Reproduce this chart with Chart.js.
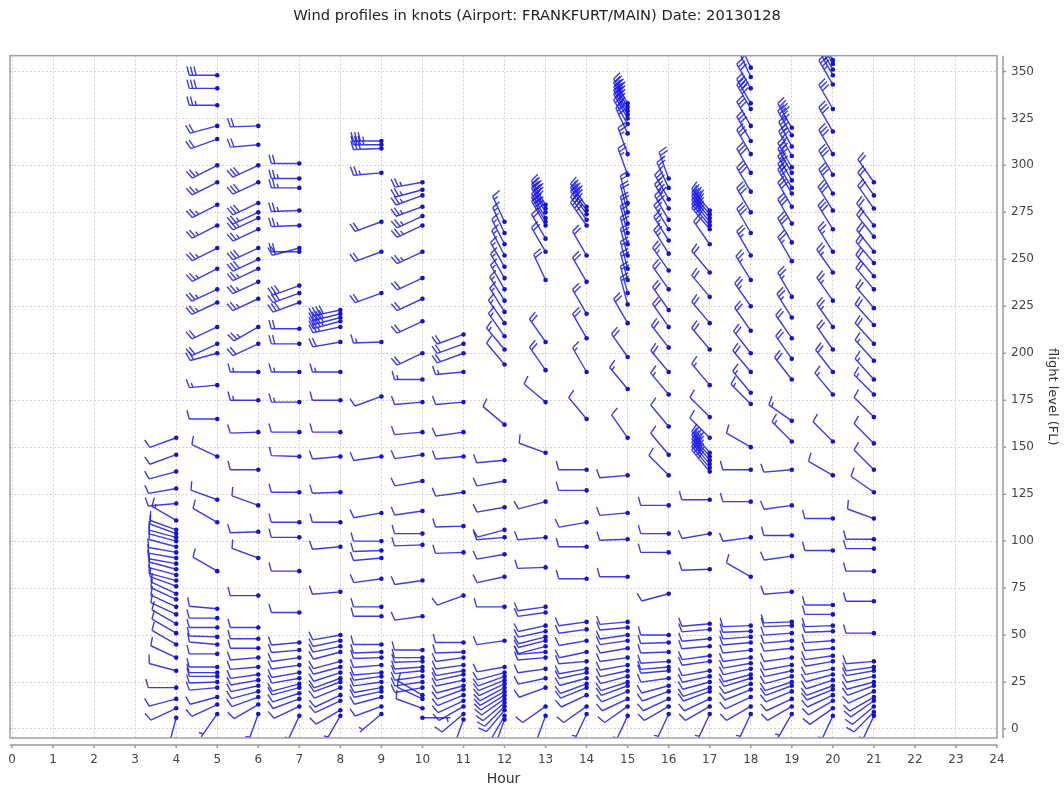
<!DOCTYPE html>
<html>
<head>
<meta charset="utf-8">
<script src="https://cdn.jsdelivr.net/npm/chart.js@4.4.1/dist/chart.umd.min.js"></script>
<style>
  html, body { margin: 0; padding: 0; background: #fff; }
  #wrap { width: 1064px; height: 791px; }
</style>
</head>
<body>
<div id="wrap"><canvas id="chartWind"></canvas></div>
<script>
// profile times (hour of day)
const hours = [4, 5, 6, 7, 8, 9, 10, 11, 12, 13, 14, 15, 16, 17, 18, 19, 20, 21];

// flight levels of each report, one list per profile
const levels = [
  [155,146,137,128,120,111,106,104,102,100,97,94,91,88,85,82,79,76,72,69,65,61,56,51,45,38,31,22,16,11,6],
  [348,341,332,321,314,300,291,279,268,256,245,234,227,214,205,200,183,165,145,122,110,84,64,59,54,49,45,40,33,30,28,25,22,17,13,8],
  [321,311,300,291,280,275,272,266,256,250,245,238,229,214,205,190,175,158,138,119,105,91,71,54,48,43,38,33,29,26,23,20,17,13,8],
  [301,293,288,276,268,256,254,236,232,227,213,205,190,174,158,145,126,110,102,84,62,46,42,38,34,30,27,24,22,19,16,12,7],
  [223,221,219,217,214,206,190,175,158,145,126,110,97,73,50,47,44,41,36,33,30,27,25,22,18,15,10,7],
  [313,311,309,296,270,254,232,206,177,145,115,100,95,91,80,65,60,45,41,38,34,30,28,25,22,20,17,12,8],
  [291,287,284,278,273,268,254,240,229,217,200,186,174,158,146,132,116,104,98,79,60,42,38,36,33,31,28,25,22,18,16,11,6],
  [210,205,200,190,174,158,145,126,108,94,71,46,41,38,34,31,29,26,23,21,18,15,12,8,5],
  [270,264,258,252,246,240,234,228,222,216,209,202,194,162,143,132,118,106,102,93,81,65,47,33,30,28,26,24,22,20,18,16,14,12,10,7,5],
  [279,277,275,272,270,268,261,254,239,206,191,174,147,121,102,86,65,62,55,52,49,47,44,41,38,32,27,22,12,7],
  [278,276,274,271,268,252,238,221,208,190,165,138,127,110,97,80,57,53,47,41,36,32,30,27,24,22,18,12,8],
  [333,331,329,327,325,322,317,306,295,280,275,269,264,258,252,245,239,232,226,216,198,181,155,135,115,101,81,57,54,50,47,43,38,34,31,28,25,23,20,16,12,7],
  [293,288,282,277,271,266,260,253,244,234,223,214,203,190,178,161,146,135,119,104,94,72,50,46,41,36,33,31,27,23,20,16,12,8],
  [276,274,272,270,268,266,258,243,230,216,202,183,166,155,147,145,143,141,139,137,122,104,85,56,53,48,44,39,36,31,28,25,22,20,16,12,8],
  [352,347,341,333,330,321,313,306,296,286,275,264,252,239,225,212,200,190,179,173,150,138,121,102,81,55,52,49,46,42,38,35,32,29,27,24,21,17,12,8],
  [320,316,310,305,299,296,292,288,285,278,269,259,249,230,219,208,197,186,164,153,138,119,103,92,73,57,55,51,47,43,38,34,31,28,25,23,20,16,12,8],
  [356,354,351,348,343,330,318,306,295,285,276,266,254,243,228,214,202,190,178,153,135,112,95,66,61,55,52,47,43,39,36,32,29,26,23,21,18,15,11,7],
  [291,284,277,268,262,254,248,241,234,224,215,205,196,186,178,166,152,138,126,112,101,96,84,68,51,36,33,31,28,25,23,20,17,15,12,9,7]
];

// wind direction (degrees, where the wind blows from)
const directions = [
  [250,250,255,260,265,300,290,290,285,285,285,280,280,280,285,285,285,290,295,295,295,295,300,300,300,295,285,270,255,245,195],
  [270,270,270,255,250,243,243,243,243,243,243,245,245,245,245,255,265,270,295,290,300,300,275,270,270,272,275,270,270,270,270,268,265,255,245,215],
  [268,265,245,245,245,245,245,245,245,245,245,245,245,240,245,270,270,268,270,290,268,290,270,270,270,270,265,265,262,260,258,255,250,240,200],
  [270,270,270,268,268,255,270,250,250,250,270,270,270,270,270,272,270,270,270,270,270,265,265,262,262,260,260,255,255,252,250,245,205],
  [258,256,255,255,258,260,270,270,270,265,268,270,265,265,260,258,258,255,255,255,252,250,250,248,245,245,240,210],
  [270,270,268,265,250,250,250,268,250,262,260,270,268,265,262,270,270,270,268,268,265,265,262,262,260,258,255,250,230],
  [260,255,250,250,245,245,245,245,245,245,245,270,265,265,262,260,262,270,268,262,262,270,270,268,266,264,262,262,260,300,295,290,90],
  [250,250,250,265,265,262,265,262,268,268,250,270,268,262,262,260,258,258,255,250,248,245,240,230,200],
  [335,335,333,333,330,330,330,328,328,325,325,320,320,310,265,260,260,255,265,260,258,270,262,260,255,250,248,245,242,240,238,235,230,225,220,210,200],
  [330,330,330,330,330,330,330,330,335,325,325,310,290,255,265,268,262,262,258,258,256,256,255,265,265,262,258,250,235,200],
  [325,325,325,325,325,330,330,330,330,330,320,270,270,260,270,270,262,262,260,258,265,260,258,255,250,248,245,235,205],
  [330,330,330,330,330,330,335,340,340,345,345,345,345,345,345,345,345,345,345,330,325,320,325,265,265,268,270,265,265,262,262,260,262,260,258,255,252,250,248,245,235,205],
  [340,335,330,330,330,328,328,328,325,325,325,325,322,320,320,320,320,315,270,270,270,255,270,268,268,266,265,265,262,255,250,245,240,205],
  [320,320,320,320,320,320,325,320,320,320,320,320,315,315,320,320,320,320,320,320,270,260,268,265,265,265,265,262,262,260,258,255,252,250,245,240,205],
  [335,335,330,330,330,330,330,330,330,330,330,330,330,328,325,325,322,320,320,315,300,270,270,262,300,268,268,266,265,264,262,260,258,255,253,250,248,245,240,205],
  [330,330,332,332,330,330,330,330,330,330,330,330,330,330,328,325,325,322,305,315,265,262,270,262,265,268,268,266,265,264,262,260,258,255,252,250,248,245,240,210],
  [330,330,330,330,330,330,330,330,330,330,328,328,328,325,325,325,325,322,320,315,300,270,270,270,270,268,268,266,265,262,260,258,255,252,250,248,245,240,235,205],
  [325,325,325,322,322,322,320,320,320,320,318,318,318,318,315,315,315,315,305,290,270,270,270,270,270,265,262,260,258,255,250,245,240,235,230,225,205]
];

// wind speed (knots)
const speeds = [
  [10,10,10,10,10,15,10,10,10,10,10,10,10,10,10,10,10,10,10,10,10,10,10,10,10,10,10,10,10,10,5],
  [30,30,25,20,20,25,25,25,25,25,25,25,25,20,20,20,15,10,10,10,10,10,10,10,10,10,10,10,10,10,10,10,10,10,10,5],
  [20,20,30,30,30,25,25,25,30,30,25,25,25,25,20,15,15,10,10,10,10,10,10,10,10,10,10,10,10,10,10,10,10,10,5],
  [20,25,25,25,25,20,20,30,30,30,20,20,15,15,10,10,10,10,10,10,10,10,10,10,10,10,10,10,10,10,10,10,5],
  [40,40,40,35,25,20,15,10,10,10,10,10,10,10,10,10,10,10,10,10,10,10,10,10,10,10,10,5],
  [35,35,30,25,20,20,20,15,10,10,10,10,10,10,10,10,10,10,10,10,10,10,10,10,10,10,10,10,5],
  [25,25,25,25,25,25,25,20,20,20,20,15,10,10,10,10,10,10,10,10,10,10,10,10,10,10,10,10,10,10,10,10,3],
  [20,20,20,15,10,10,10,10,10,10,10,10,10,10,10,10,10,10,10,10,10,10,10,10,5],
  [15,15,15,15,15,15,15,15,15,15,15,15,10,10,10,10,10,10,10,10,10,10,10,10,10,10,10,10,10,10,10,10,10,10,10,10,5],
  [40,40,40,40,40,40,20,20,20,20,20,10,10,10,10,10,10,10,10,10,10,10,10,10,10,10,10,10,10,5],
  [40,40,40,40,40,20,20,20,20,15,10,10,10,10,10,10,10,10,10,10,10,10,10,10,10,10,10,10,5],
  [40,40,40,40,40,40,30,25,25,20,20,20,20,20,20,20,20,20,20,20,20,15,10,10,10,10,10,10,10,10,10,10,10,10,10,10,10,10,10,10,10,5],
  [25,25,30,40,30,25,25,25,25,20,20,20,20,20,15,10,10,10,10,10,10,10,10,10,10,10,10,10,10,10,10,10,10,5],
  [40,40,40,40,40,40,20,20,20,20,20,15,10,10,40,40,40,40,40,40,10,10,10,10,10,10,10,10,10,10,10,10,10,10,10,10,5],
  [30,30,30,40,40,30,30,30,30,30,30,30,25,25,25,20,20,20,15,15,10,10,10,10,10,10,10,10,10,10,10,10,10,10,10,10,10,10,10,5],
  [40,40,35,35,30,30,30,30,30,30,30,30,25,25,25,20,20,20,15,15,10,10,10,10,10,10,10,10,10,10,10,10,10,10,10,10,10,10,10,5],
  [45,45,40,40,35,30,30,30,30,30,30,30,25,25,25,25,20,20,15,10,10,10,10,10,10,10,10,10,10,10,10,10,10,10,10,10,10,10,10,5],
  [20,20,20,20,20,20,20,20,20,20,20,20,15,15,15,10,10,10,10,10,10,10,10,10,10,10,10,10,10,10,10,10,10,10,10,10,5]
];

const xTicks = [0,1,2,3,4,5,6,7,8,9,10,11,12,13,14,15,16,17,18,19,20,21,22,23,24];
const yTicks = [0,25,50,75,100,125,150,175,200,225,250,275,300,325,350];

const BLUE = "rgba(25,25,230,0.85)";
const FONT = "'DejaVu Sans', sans-serif";

// wind barb: shaft points where the wind comes from, barbs on the clockwise side
function drawBarb(ctx, x, y, dir, speed) {
  const SHAFT = 28, BARB = 9, STEP = 3.5, LEAN = 15 * Math.PI / 180;
  const rad = dir * Math.PI / 180;
  const ux = Math.sin(rad), uy = -Math.cos(rad);
  const px = -uy, py = ux;
  const bx = px * Math.cos(LEAN) + ux * Math.sin(LEAN);
  const by = py * Math.cos(LEAN) + uy * Math.sin(LEAN);
  const tx = x + ux * SHAFT, ty = y + uy * SHAFT;

  ctx.beginPath();
  ctx.moveTo(x, y);
  ctx.lineTo(tx, ty);

  let s = Math.round(speed / 5) * 5;
  let pos = 0;
  while (s >= 50) {
    const ax = tx - ux * pos, ay = ty - uy * pos;
    ctx.moveTo(ax, ay);
    ctx.lineTo(ax + px * BARB, ay + py * BARB);
    ctx.lineTo(ax - ux * STEP * 2, ay - uy * STEP * 2);
    pos += STEP * 2.5;
    s -= 50;
  }
  while (s >= 10) {
    const ax = tx - ux * pos, ay = ty - uy * pos;
    ctx.moveTo(ax, ay);
    ctx.lineTo(ax + bx * BARB, ay + by * BARB);
    pos += STEP;
    s -= 10;
  }
  if (s >= 5) {
    if (pos === 0) pos = STEP;
    const ax = tx - ux * pos, ay = ty - uy * pos;
    ctx.moveTo(ax, ay);
    ctx.lineTo(ax + bx * BARB / 2, ay + by * BARB / 2);
  }
  ctx.stroke();
}

const barbPlugin = {
  id: "barbs",
  afterDatasetsDraw(chart) {
    const { ctx, chartArea } = chart;
    ctx.save();
    ctx.beginPath();
    ctx.rect(chartArea.left, chartArea.top, chartArea.right - chartArea.left, chartArea.bottom - chartArea.top);
    ctx.clip();
    ctx.strokeStyle = BLUE;
    ctx.lineWidth = 1.4;
    chart.data.datasets.forEach((ds, i) => {
      const meta = chart.getDatasetMeta(i);
      meta.data.forEach((pt, j) => {
        drawBarb(ctx, pt.x, pt.y, directions[i][j], speeds[i][j]);
      });
    });
    ctx.restore();
  }
};

// plot frame plus the offset axis lines
const framePlugin = {
  id: "frame",
  afterDraw(chart) {
    const { ctx, chartArea } = chart;
    const { left, right, top, bottom } = chartArea;
    const xs = chart.scales.x, ys = chart.scales.y;
    ctx.save();
    ctx.strokeStyle = "#a0a0a0";
    ctx.lineWidth = 1.5;
    ctx.strokeRect(left, top, right - left, bottom - top);

    ctx.strokeStyle = "#999";
    ctx.beginPath();
    ctx.moveTo(left, bottom + 7);
    ctx.lineTo(right, bottom + 7);
    xTicks.forEach(v => {
      const px = xs.getPixelForValue(v);
      ctx.moveTo(px, bottom + 7);
      ctx.lineTo(px, bottom + 10);
    });
    ctx.moveTo(right + 6, top);
    ctx.lineTo(right + 6, bottom);
    yTicks.forEach(v => {
      const py = ys.getPixelForValue(v);
      ctx.moveTo(right + 6, py);
      ctx.lineTo(right + 9, py);
    });
    ctx.stroke();
    ctx.restore();
  }
};

const datasets = hours.map((h, i) => ({
  label: h + ":00",
  data: levels[i].map(l => ({ x: h, y: l })),
  pointRadius: 2.3,
  pointBackgroundColor: "rgb(20,20,190)",
  pointBorderWidth: 0,
  showLine: false
}));

const ctx = document.getElementById("chartWind").getContext("2d");
new Chart(ctx, {
  type: "scatter",
  data: { datasets },
  plugins: [barbPlugin, framePlugin],
  options: {
    responsive: true,
    maintainAspectRatio: false,
    animation: false,
    layout: { padding: { left: 10, right: 0, top: 0, bottom: 0 } },
    plugins: {
      legend: { display: false },
      tooltip: { enabled: false },
      title: {
        display: true,
        text: "Wind profiles in knots (Airport: FRANKFURT/MAIN) Date: 20130128",
        color: "#222",
        font: { family: FONT, size: 14.7, weight: "normal" },
        padding: { top: 7, bottom: 31 }
      }
    },
    scales: {
      x: {
        type: "linear",
        min: -0.05,
        max: 24,
        afterBuildTicks: s => { s.ticks = xTicks.map(v => ({ value: v })); },
        afterFit: s => { s.height = 53; },
        grid: { color: "#d2d2d2", drawTicks: true, tickLength: 15, tickColor: "rgba(0,0,0,0)" },
        border: { display: false, dash: [2, 2] },
        ticks: { padding: 0, color: "#444", font: { family: FONT, size: 12 }, autoSkip: false, maxRotation: 0 },
        title: { display: true, text: "Hour", color: "#333", font: { family: FONT, size: 14 }, padding: { top: 0, bottom: 3 } }
      },
      y: {
        type: "linear",
        position: "right",
        min: -4.8,
        max: 358.4,
        afterBuildTicks: s => { s.ticks = yTicks.map(v => ({ value: v })); },
        afterFit: s => { s.width = 67; },
        grid: { color: "#d2d2d2", drawTicks: false },
        border: { display: false, dash: [2, 2] },
        ticks: { padding: 14, color: "#444", font: { family: FONT, size: 12 } },
        title: { display: true, text: "flight level (FL)", color: "#333", font: { family: FONT, size: 13 }, padding: { top: 4, bottom: 0 } }
      }
    }
  }
});
</script>
</body>
</html>
